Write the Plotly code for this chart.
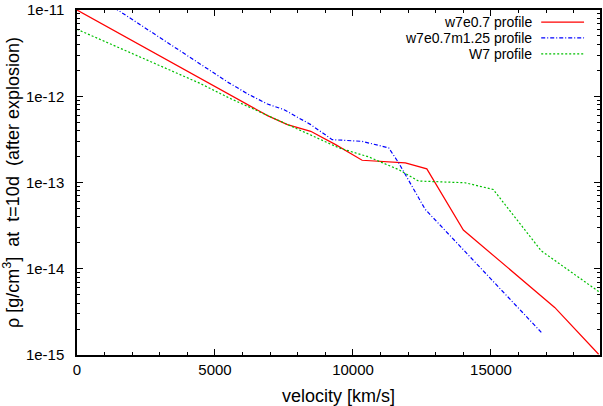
import plotly.graph_objects as go

# ---- data ----
v_w7e07 = [0, 6902, 7624, 8468, 9370, 10330, 11896, 12675, 13999, 17308, 18900]
rho_w7e07 = [1.00e-11, 5.96e-13, 4.69e-13, 3.92e-13, 2.75e-13, 1.81e-13, 1.69e-13,
             1.44e-13, 2.81e-14, 3.56e-15, 1.02e-15]

v_w7e07m125 = [0, 5520, 6242, 6902, 7504, 8468, 9247, 10330, 11293, 11654, 12617, 16824]
rho_w7e07m125 = [2.04e-11, 1.42e-12, 1.04e-12, 8.13e-13, 6.98e-13, 4.69e-13, 3.14e-13,
                 3.00e-13, 2.52e-13, 1.69e-13, 4.88e-14, 1.83e-15]

v_w7 = [0, 4438, 5520, 9489, 10571, 11654, 12375, 14060, 15081, 16824, 18950]
rho_w7 = [5.98e-12, 1.42e-12, 9.53e-13, 2.52e-13, 1.98e-13, 1.41e-13, 1.04e-13,
          9.93e-14, 8.30e-14, 1.61e-14, 5.31e-15]

names = ["w7e0.7 profile", "w7e0.7m1.25 profile", "W7 profile"]
x_ticks = [0, 5000, 10000, 15000]
x_ticktext = ["0", "5000", "10000", "15000"]
y_ticks = [1e-15, 1e-14, 1e-13, 1e-12, 1e-11]
y_ticktext = ["1e-15", "1e-14", "1e-13", "1e-12", "1e-11"]
x_range = [0, 18950]

FONT = "Liberation Sans, Arial, sans-serif"
styles = [
    dict(color="#ff0000", width=1.2, dash="solid"),
    dict(color="#0000ff", width=1.2, dash="4px,2px,1px,2px"),
    dict(color="#00c000", width=1.2, dash="2px,2px"),
]

fig = go.Figure()
for xs, ys, nm, st in zip([v_w7e07, v_w7e07m125, v_w7], [rho_w7e07, rho_w7e07m125, rho_w7], names, styles):
    fig.add_trace(go.Scatter(x=xs, y=ys, mode="lines", name=nm, line=st,
                             showlegend=False, cliponaxis=True))

# manual legend (text left of the sample, gnuplot style)
row_y = [0.9650, 0.9190, 0.8730]
for nm, st, yy in zip(names, styles, row_y):
    fig.add_annotation(xref="x domain", yref="y domain", x=0.874, y=yy, text=nm,
                       showarrow=False, xanchor="right", yanchor="middle",
                       font=dict(family=FONT, size=14, color="black"))
    fig.add_shape(type="line", xref="x domain", yref="y domain", x0=0.8876, x1=0.9695,
                  y0=yy, y1=yy, line=st)

minor_y = [m * 10.0 ** e for e in range(-15, -11) for m in range(2, 10)]
minor_x = [v for v in range(1000, 19000, 1000) if v % 5000 != 0]

fig.update_layout(
    width=603, height=406,
    margin=dict(l=77, r=1, t=10, b=50),
    paper_bgcolor="white", plot_bgcolor="white",
    font=dict(family=FONT, size=15, color="black"),
    xaxis=dict(
        range=x_range, tickvals=x_ticks, ticktext=x_ticktext, ticks="inside", ticklen=6, tickwidth=1,
        tickcolor="black", showline=True, linecolor="black", linewidth=1.5,
        mirror="allticks", showgrid=False, zeroline=False,
        minor=dict(tickvals=minor_x, ticks="inside", ticklen=3, tickcolor="black", showgrid=False),
        title=dict(text="velocity [km/s]", standoff=15),
        tickfont=dict(size=15),
    ),
    yaxis=dict(
        type="log", range=[-15, -11], tickvals=y_ticks, ticktext=y_ticktext,
        ticks="inside", ticklen=6, tickwidth=1, tickcolor="black",
        showline=True, linecolor="black", linewidth=1.5, mirror="allticks",
        showgrid=False, zeroline=False,
        minor=dict(tickvals=minor_y, ticks="inside", ticklen=3, tickcolor="black", showgrid=False),
        title=dict(text="\u03c1 [g/cm<sup>3</sup>]\u00a0\u00a0at\u00a0\u00a0t=10d\u00a0\u00a0(after explosion)",
                   standoff=4),
        tickfont=dict(size=15),
        ticklabelstandoff=8,
    ),
)

fig.write_html("out.html")
